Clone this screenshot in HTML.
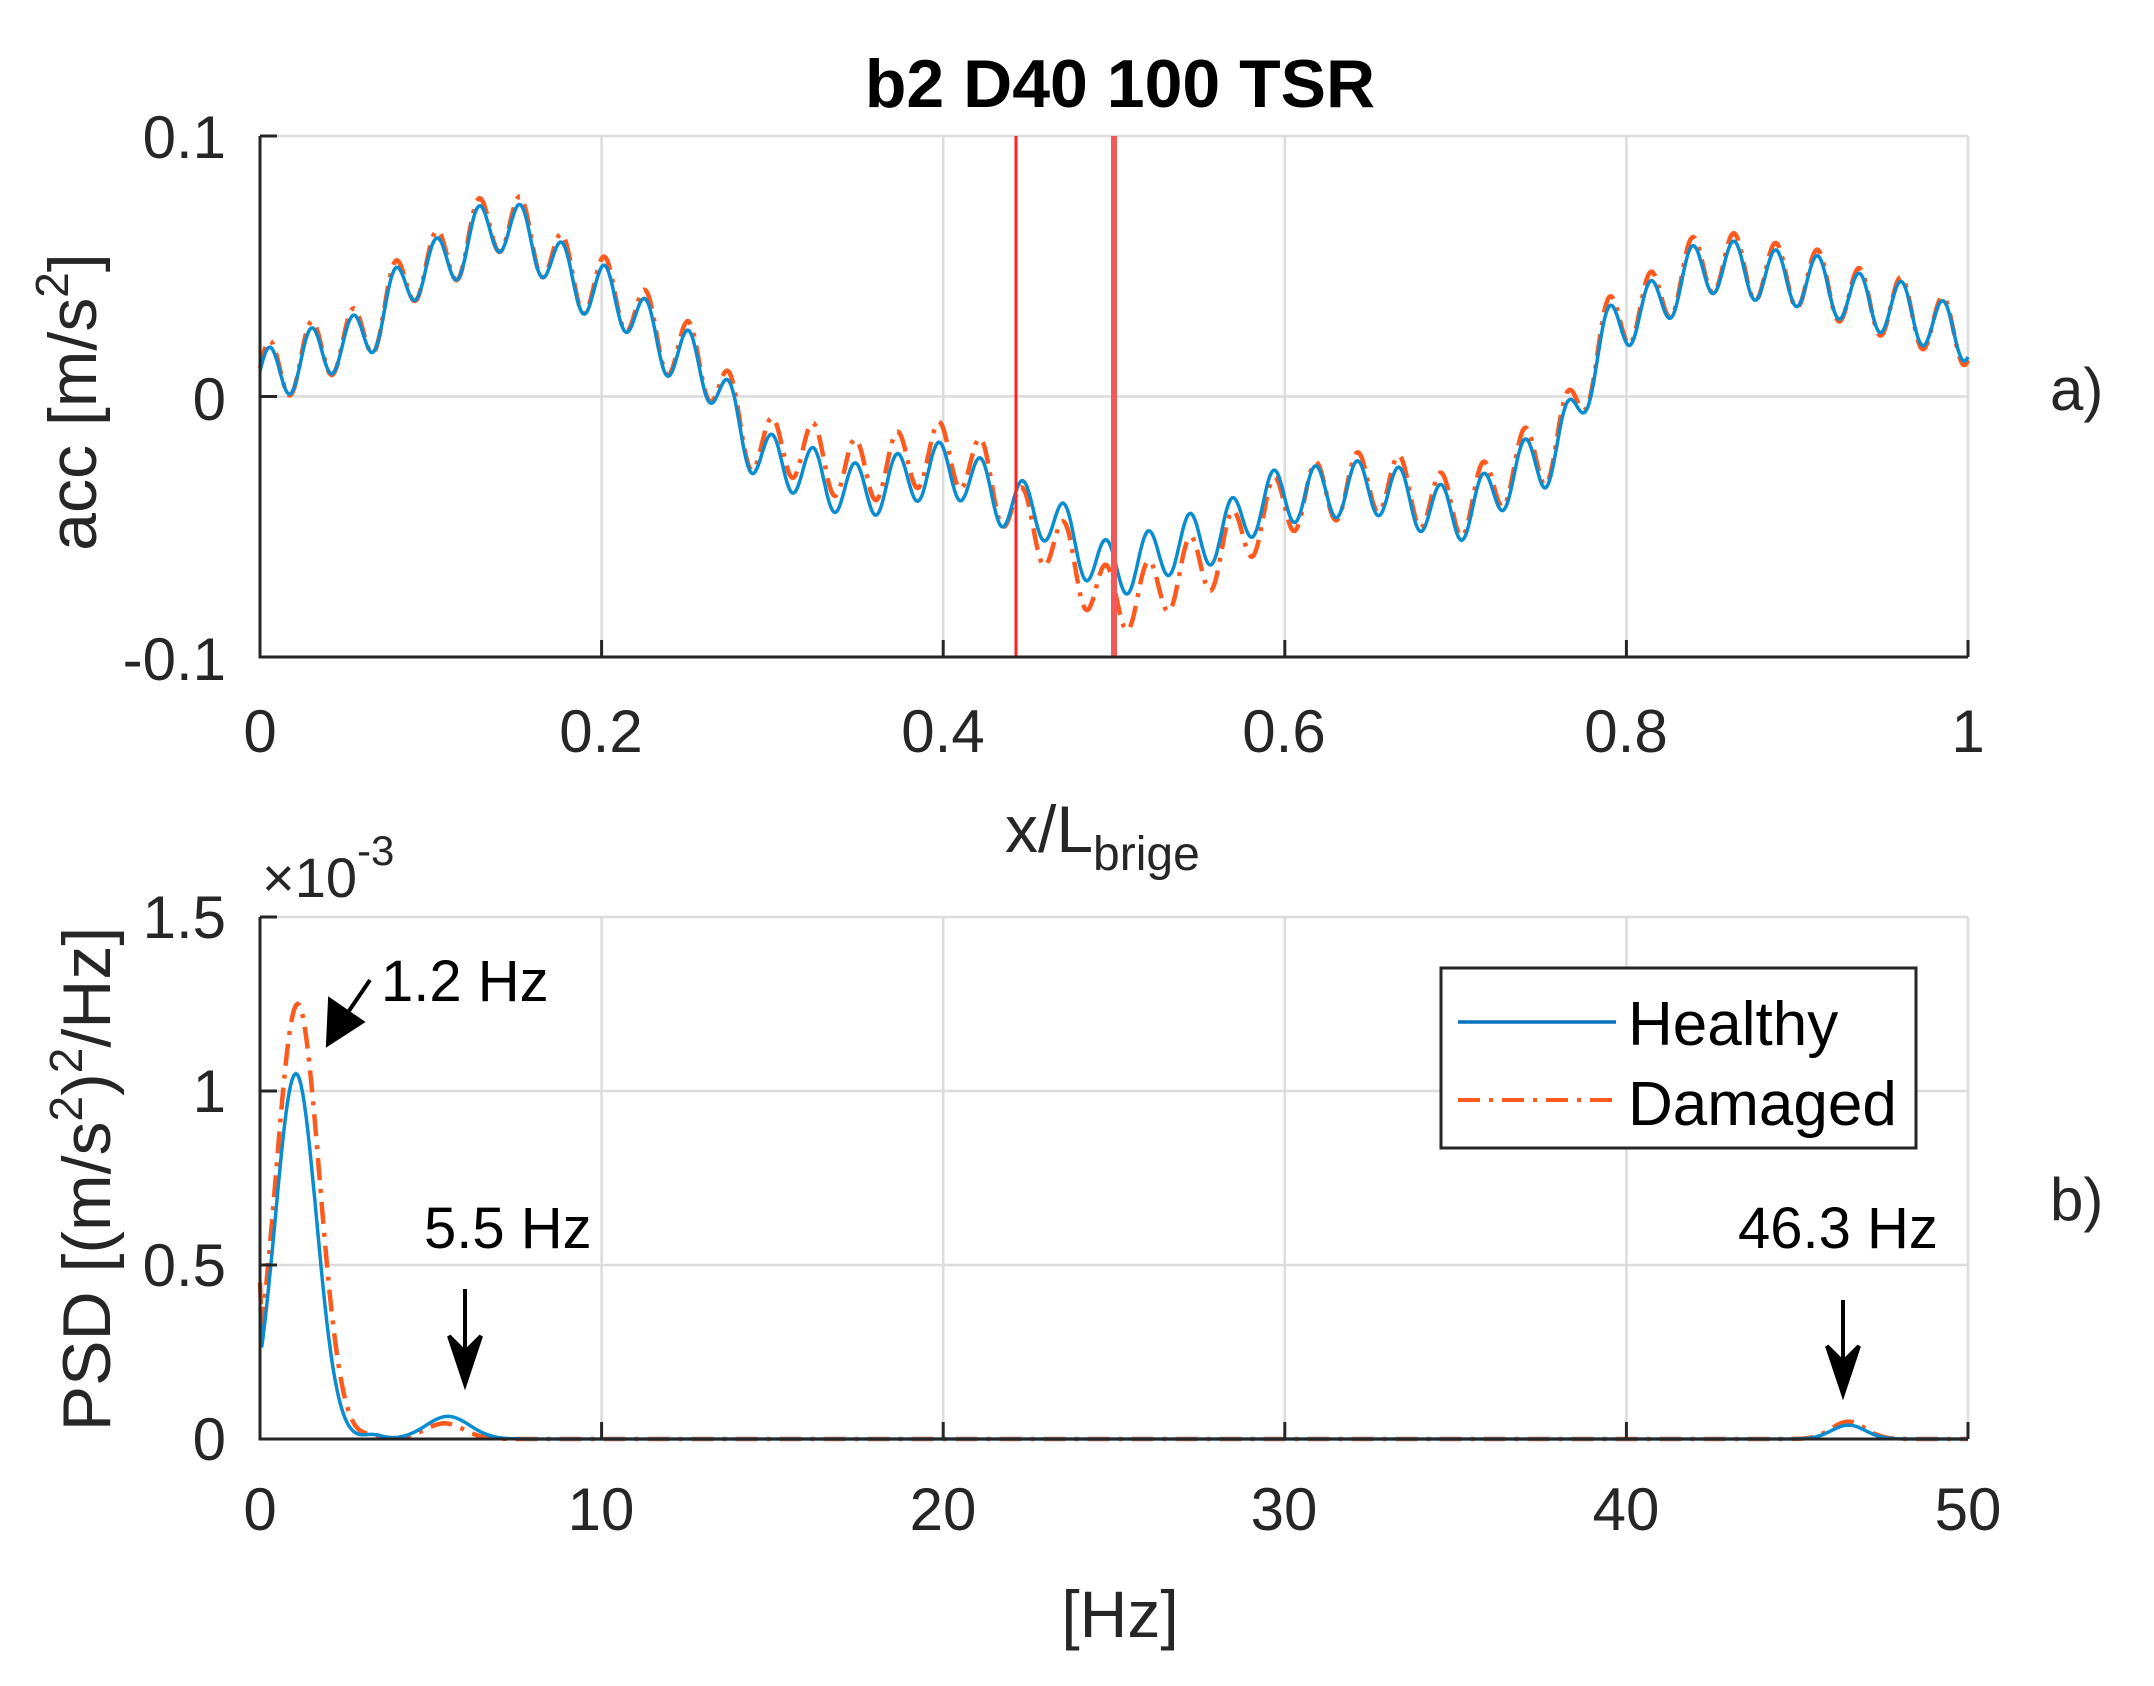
<!DOCTYPE html>
<html><head><meta charset="utf-8">
<style>
html,body{margin:0;padding:0;background:#fff;}
svg{display:block;}
text{font-family:"Liberation Sans",Arial,sans-serif;fill:#262626;}
</style></head>
<body>
<svg id="s" width="2154" height="1686" viewBox="0 0 2154 1686" xmlns="http://www.w3.org/2000/svg">
<rect width="2154" height="1686" fill="#fff"/>
<g id="grid" stroke="#dcdcdc" stroke-width="2.5" fill="none"></g>
<g id="data" fill="none"></g>
<g id="axes" stroke="#262626" stroke-width="3" fill="none"></g>
<text x="1120" y="107" font-size="68" font-weight="bold" text-anchor="middle" style="fill:#000">b2 D40 100 TSR</text>
<g font-size="60" text-anchor="end">
<text x="226" y="158">0.1</text>
<text x="226" y="420">0</text>
<text x="226" y="680">-0.1</text>
</g>
<g font-size="60" text-anchor="middle">
<text x="260" y="752">0</text>
<text x="601" y="752">0.2</text>
<text x="943" y="752">0.4</text>
<text x="1284" y="752">0.6</text>
<text x="1626" y="752">0.8</text>
<text x="1968" y="752">1</text>
</g>
<text transform="translate(96,402) rotate(-90)" font-size="68" text-anchor="middle">acc [m/s<tspan dy="-28" font-size="46">2</tspan><tspan dy="28">]</tspan></text>
<text x="1005" y="852" font-size="66">x/L<tspan dy="18" font-size="48">brige</tspan></text>
<text x="2050" y="410" font-size="60">a)</text>
<text x="262" y="897" font-size="56">×10<tspan dy="-32" font-size="42">-3</tspan></text>
<g font-size="60" text-anchor="end">
<text x="226" y="938">1.5</text>
<text x="226" y="1112">1</text>
<text x="226" y="1286">0.5</text>
<text x="226" y="1460">0</text>
</g>
<g font-size="60" text-anchor="middle">
<text x="260" y="1530">0</text>
<text x="601" y="1530">10</text>
<text x="943" y="1530">20</text>
<text x="1284" y="1530">30</text>
<text x="1626" y="1530">40</text>
<text x="1968" y="1530">50</text>
</g>
<text x="1120" y="1637" font-size="66" text-anchor="middle">[Hz]</text>
<text transform="translate(110,1179) rotate(-90)" font-size="68" text-anchor="middle">PSD [(m/s<tspan dy="-28" font-size="46">2</tspan><tspan dy="28">)</tspan><tspan dy="-28" font-size="46">2</tspan><tspan dy="28">/Hz]</tspan></text>
<text x="2050" y="1220" font-size="60">b)</text>
<g font-size="58">
<text x="381" y="1001" style="fill:#000">1.2 Hz</text>
<text x="424" y="1248" style="fill:#000">5.5 Hz</text>
<text x="1738" y="1248" style="fill:#000">46.3 Hz</text>
</g>
<g stroke="#000" stroke-width="4" fill="#000">
<line x1="370" y1="980" x2="340" y2="1024"/>
<polygon points="328,1044 330,1000 362,1022"/>
<line x1="465" y1="1289" x2="465" y2="1350"/>
<polygon points="465,1384 449,1336 465,1352 481,1336"/>
<line x1="1843" y1="1300" x2="1843" y2="1360"/>
<polygon points="1843,1394 1827,1346 1843,1362 1859,1346"/>
</g>
<rect x="1441" y="968" width="475" height="180" fill="#fff" stroke="#262626" stroke-width="3"/>
<line x1="1458" y1="1022" x2="1616" y2="1022" stroke="#0072BD" stroke-width="3.5"/>
<line x1="1458" y1="1100" x2="1616" y2="1100" stroke="#FF5A1E" stroke-width="4" stroke-dasharray="22,9,4,9"/>
<text x="1628" y="1045" font-size="62" style="fill:#000">Healthy</text>
<text x="1628" y="1125" font-size="62" style="fill:#000">Damaged</text>
</svg>
<script>
(function(){
var NS="http://www.w3.org/2000/svg";
function el(p,t,a){var e=document.createElementNS(NS,t);for(var k in a)e.setAttribute(k,a[k]);p.appendChild(e);return e;}
var L=260,R=1968;
var grid=document.getElementById('grid'),axes=document.getElementById('axes'),data=document.getElementById('data');
var aT=136,aB=657,bT=917,bB=1439;
for(var i=0;i<=5;i++){var x=L+(R-L)*i/5;
 el(grid,'line',{x1:x,y1:aT,x2:x,y2:aB});el(grid,'line',{x1:x,y1:bT,x2:x,y2:bB});}
[aT,(aT+aB)/2,aB].forEach(function(y){el(grid,'line',{x1:L,y1:y,x2:R,y2:y});});
for(var j=0;j<=3;j++){var y=bB-(bB-bT)*j/3;el(grid,'line',{x1:L,y1:y,x2:R,y2:y});}
function interp(pts,x){for(var i=0;i<pts.length-1;i++){if(x<=pts[i+1][0]){var t=(x-pts[i][0])/(pts[i+1][0]-pts[i][0]);t=t*t*(3-2*t);return pts[i][1]+(pts[i+1][1]-pts[i][1])*t;}}return pts[pts.length-1][1];}
var base=[[0,0.008],[0.05,0.02],[0.1,0.05],[0.14,0.066],[0.2,0.04],[0.25,0.015],[0.3,-0.025],[0.35,-0.036],[0.4,-0.028],[0.45,-0.043],[0.5,-0.066],[0.55,-0.055],[0.6,-0.038],[0.65,-0.035],[0.7,-0.045],[0.75,-0.025],[0.8,0.03],[0.85,0.05],[0.9,0.045],[0.95,0.035],[1.0,0.024]];
var dd=[[0,0.001],[0.28,0.002],[0.32,0.008],[0.42,0.006],[0.46,-0.008],[0.52,-0.013],[0.58,-0.006],[0.62,0],[0.66,0.003],[0.72,0.003],[0.8,0.002],[1,0.0]];
function ya(v){return (aT+aB)/2-v/0.1*(aB-aT)/2;}
var ph=[],pd=[];
for(var k=0;k<=1200;k++){var x=k/1200;
 var r=0.0105*Math.cos(2*Math.PI*(x-0.128)/0.0245);
 var h=interp(base,x)+r, d=h+interp(dd,x)+0.0015*Math.cos(2*Math.PI*(x-0.128)/0.0245);
 var px=(L+(R-L)*x).toFixed(1);
 ph.push(px+','+ya(h).toFixed(1));pd.push(px+','+ya(d).toFixed(1));}
el(data,'polyline',{points:pd.join(' '),stroke:'#FF5A1E','stroke-width':4.5,'stroke-dasharray':'22,9,4,9'});
el(data,'polyline',{points:ph.join(' '),stroke:'#0A8CD0','stroke-width':3.5});
el(data,'line',{x1:1016,y1:aT,x2:1016,y2:aB,stroke:'#ff2020','stroke-width':3});
el(data,'line',{x1:1114,y1:aT,x2:1114,y2:aB,stroke:'#f25a5a','stroke-width':6});
function yb(v){return bB-v/1.5*(bB-bT);}
function g(f,a,m,s){return a*Math.exp(-Math.pow((f-m)/s,2));}
var qh=[],qd=[];
for(var k=0;k<=1000;k++){var f=k/20;
 var h=g(f,1.05,1.05,0.85)+g(f,0.065,5.5,0.9)+g(f,0.012,3.3,0.4)+g(f,0.04,46.5,0.7);
 var d=g(f,1.25,1.1,0.9)+g(f,0.045,5.4,0.8)+g(f,0.01,3.3,0.4)+g(f,0.05,46.5,0.7);
 if(k==0){h=0.38;d=0.45;}
 var px=(L+(R-L)*f/50).toFixed(1);
 qh.push(px+','+yb(h).toFixed(1));qd.push(px+','+yb(d).toFixed(1));}
el(data,'polyline',{points:qd.join(' '),stroke:'#FF5A1E','stroke-width':4.5,'stroke-dasharray':'22,9,4,9'});
el(data,'polyline',{points:qh.join(' '),stroke:'#0A8CD0','stroke-width':3.5});
[[aT,aB],[bT,bB]].forEach(function(p){
 el(axes,'polyline',{points:L+','+p[0]+' '+L+','+p[1]+' '+R+','+p[1]});
 for(var i=0;i<=5;i++){var x=L+(R-L)*i/5;el(axes,'line',{x1:x,y1:p[1],x2:x,y2:p[1]-17});}
});
[aT,(aT+aB)/2,aB].forEach(function(y){el(axes,'line',{x1:L,y1:y,x2:L+17,y2:y});});
for(var j=0;j<=3;j++){var y=bB-(bB-bT)*j/3;el(axes,'line',{x1:L,y1:y,x2:L+17,y2:y});}
})();
</script>
</body></html>
